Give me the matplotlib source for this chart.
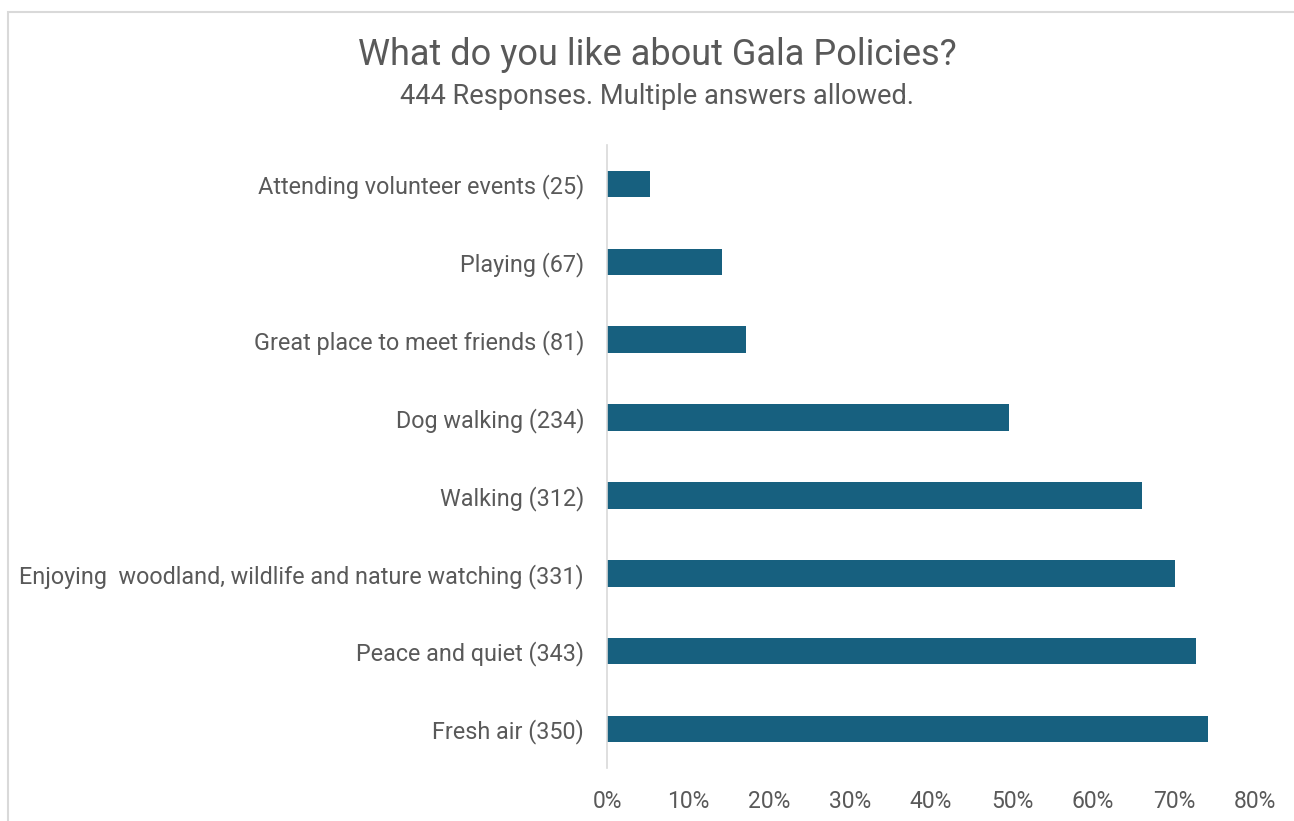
import matplotlib.pyplot as plt
from matplotlib.patches import Rectangle
from matplotlib.ticker import PercentFormatter

plt.rcParams['font.family'] = ['Roboto', 'DejaVu Sans']

# categories top to bottom, share of respondents (%)
labels = ["Attending volunteer events (25)", "Playing (67)",
          "Great place to meet friends (81)", "Dog walking (234)",
          "Walking (312)", "Enjoying  woodland, wildlife and nature watching (331)",
          "Peace and quiet (343)", "Fresh air (350)"]
share = [5.3, 14.2, 17.2, 49.6, 66.1, 70.1, 72.7, 74.2]

grey = '#595959'
fig = plt.figure(figsize=(12.94, 8.21), dpi=100)
ax = fig.add_axes([607/1294, 1-768/821, (1255-607)/1294, (768-145)/821])

ypos = list(range(len(labels)))[::-1]
ax.barh(ypos, share, height=0.34, color='#17607F')
ax.set_ylim(-0.5, len(labels)-0.5)
ax.set_xlim(0, 80)
ax.set_xticks(range(0, 81, 10))
ax.xaxis.set_major_formatter(PercentFormatter(decimals=0))
ax.set_yticks(ypos)
ax.set_yticklabels(labels)
ax.tick_params(axis='y', length=0, pad=16.5, labelsize=16.8, labelcolor=grey)
ax.tick_params(axis='x', length=0, pad=16, labelsize=16.5, labelcolor=grey)
for s in ['top', 'right', 'bottom']:
    ax.spines[s].set_visible(False)
ax.spines['left'].set_color('#D9D9D9')
ax.spines['left'].set_linewidth(1.2)

fig.text(657/1294, 1-55/821, "What do you like about Gala Policies?",
         ha='center', va='center', fontsize=26, color=grey)
fig.text(657/1294, 1-97/821, "444 Responses. Multiple answers allowed.",
         ha='center', va='center', fontsize=19.6, color=grey)

# chart border
fig.patches.append(Rectangle((8/1294, -0.05), 1.1, 1-12/821+0.05,
                             transform=fig.transFigure, fill=False,
                             edgecolor='#D9D9D9', linewidth=1.5))

fig.savefig('out.png', dpi=100)
